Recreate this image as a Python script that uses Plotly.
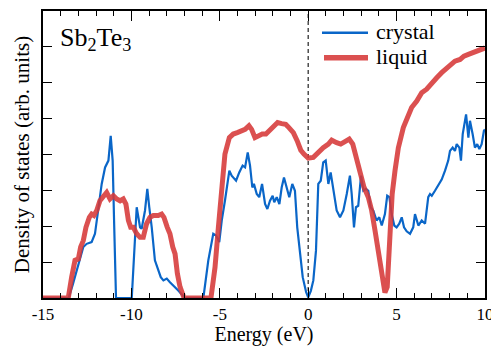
import plotly.graph_objects as go

# ---- data ----
crystal_E = [-15, -13.55, -13.3, -13.1, -12.9, -12.72, -12.53, -12.25, -12.06, -11.96, -11.8, -11.68,
             -11.49, -11.3, -11.17, -11.06, -10.98, -10.87, -9.98, -9.83, -9.7, -9.51, -9.42, -9.23,
             -9.1, -8.99, -8.85, -8.67, -8.53, -8.34, -8.19, -8.0, -7.82, -7.63, -7.35, -7.06, -7.0,
             -5.93, -5.65, -5.37, -5.21, -5.03, -4.89, -4.71, -4.46, -4.33, -4.08, -3.9, -3.71, -3.57,
             -3.42, -3.29, -3.16, -3.07, -2.91, -2.77, -2.61, -2.44, -2.31, -2.16, -2.01, -1.92, -1.78,
             -1.63, -1.5, -1.37, -1.22, -1.07, -0.9, -0.75, -0.62, -0.46, -0.31, -0.12, 0.0, 0.15, 0.29,
             0.44, 0.57, 0.71, 0.85, 0.99, 1.14, 1.27, 1.42, 1.61, 1.8, 1.99, 2.18, 2.36, 2.46, 2.59,
             2.7, 2.83, 2.99, 3.12, 3.27, 3.4, 3.53, 3.68, 3.87, 4.02, 4.16, 4.34, 4.47, 4.59, 4.72,
             4.87, 5.0, 5.15, 5.29, 5.42, 5.57, 5.76, 5.94, 6.04, 6.23, 6.42, 6.61, 6.79, 6.89, 6.99,
             7.17, 7.36, 7.55, 7.74, 7.92, 8.02, 8.17, 8.3, 8.4, 8.55, 8.64, 8.74, 8.93, 9.06, 9.15,
             9.3, 9.43, 9.56, 9.68, 9.81, 9.94, 10.0]
crystal_dos = [0, 0, 0.4, 0.77, 1.1, 1.42, 1.51, 1.56, 1.79, 2.16, 2.7, 3.18,
               3.64, 3.83, 4.52, 3.83, 2.16, 0, 0, 1.6, 2.53, 1.97, 1.93, 2.44,
               3.04, 2.53, 1.97, 1.05, 0.86, 0.58, 0.49, 0.54, 0.44, 0.35, 0.21, 0.05, 0,
               0, 1.05, 1.79, 1.74, 1.56, 2.16, 2.71, 3.55, 3.41, 3.27, 3.5, 3.69, 3.64,
               4.06, 3.69, 3.08, 3.18, 2.9, 2.81, 3.18, 2.62, 2.48, 2.71, 2.85, 2.67, 2.81,
               2.62, 3.08, 3.36, 3.08, 2.81, 3.18, 2.99, 1.97, 1.23, 0.58, 0.17, 0.02, 0.2, 0.49,
               1.32, 3.18, 3.27, 3.78, 3.83, 3.18, 3.5, 3.08, 2.44, 2.25, 2.44, 2.9, 3.41, 2.9, 1.97,
               2.53, 2.57, 3.41, 2.99, 3.04, 2.99, 2.53, 2.44, 2.16, 2.25, 2.02, 2.34, 2.85, 2.81, 2.34,
               2.02, 1.97, 2.07, 2.25, 1.97, 1.86, 1.79, 1.97, 2.34, 2.02, 2.16, 2.07, 2.81, 2.9, 2.85,
               2.99, 3.13, 3.3, 3.55, 3.83, 4.1, 4.19, 4.1, 4.29, 4.19, 3.83, 4.57, 5.12, 4.47, 4.94,
               4.57, 4.19, 4.29, 4.15, 4.29, 4.66, 4.7]

liquid_E = [-15, -13.57, -13.38, -13.19, -13.0, -12.87, -12.72, -12.57, -12.38, -12.25, -12.12, -11.96,
            -11.78, -11.59, -11.4, -11.21, -11.02, -10.83, -10.64, -10.46, -10.31, -10.17, -10.04,
            -9.89, -9.7, -9.51, -9.33, -9.14, -8.95, -8.76, -8.48, -8.29, -8.16, -7.97, -7.82, -7.66,
            -7.53, -7.4, -7.25, -7.06, -7.0, -5.5, -5.27, -5.08, -4.89, -4.71, -4.46, -4.24, -4.01,
            -3.76, -3.57, -3.35, -3.2, -3.01, -2.82, -2.6, -2.39, -2.2, -1.97, -1.73, -1.5, -1.27,
            -1.09, -0.84, -0.62, -0.42, -0.24, 0.0, 0.29, 0.57, 0.85, 1.14, 1.33, 1.61, 1.84, 2.08,
            2.32, 2.52, 2.7, 2.93, 3.16, 3.4, 3.59, 3.78, 3.97, 4.16, 4.34, 4.47, 4.59, 4.75, 4.91,
            5.1, 5.38, 5.66, 5.85, 6.14, 6.42, 6.7, 6.99, 7.27, 7.55, 7.74, 8.02, 8.3, 8.59, 8.81,
            9.06, 9.3, 9.53, 9.72, 10.0]
liquid_dos = [0, 0, 0.58, 1.05, 1.09, 1.42, 1.6, 1.97, 2.25, 2.34, 2.3, 2.44,
              2.71, 2.85, 2.94, 2.76, 2.85, 2.76, 2.71, 2.76, 2.62, 2.16, 1.97,
              1.97, 1.79, 1.69, 1.69, 2.07, 2.25, 2.3, 2.3, 2.34, 2.25, 1.97, 1.79, 1.42,
              1.23, 0.68, 0.31, 0.05, 0, 0, 0.86, 1.97, 3.08, 4.01, 4.47, 4.57, 4.61,
              4.66, 4.7, 4.8, 4.7, 4.47, 4.52, 4.57, 4.57, 4.66, 4.8, 4.89, 4.86, 4.84,
              4.75, 4.61, 4.38, 4.12, 4.01, 3.9, 3.92, 4.06, 4.19, 4.29, 4.4, 4.33, 4.29, 4.36,
              4.43, 4.29, 3.92, 3.46, 3.08, 2.81, 2.44, 1.88, 1.23, 0.68, 0.15, 0.31, 1.51, 2.9, 3.55,
              4.19, 4.75, 5.12, 5.31, 5.49, 5.72, 5.82, 6.0, 6.14, 6.28, 6.37, 6.46, 6.6, 6.65, 6.74,
              6.79, 6.83, 6.88, 6.93, 6.97]

x_ticks = [-15, -10, -5, 0, 5, 10]
x_tick_labels = ["-15", "-10", "-5", "0", "5", "10"]
series_names = ["crystal", "liquid"]

BLUE = "#0a66c8"
RED = "rgba(214,56,56,0.88)"
FONT = "Liberation Serif"

fig = go.Figure()
fig.add_trace(go.Scatter(x=crystal_E, y=crystal_dos, mode="lines", name=series_names[0],
                         line=dict(color=BLUE, width=2.2), showlegend=False))
fig.add_trace(go.Scatter(x=liquid_E, y=liquid_dos, mode="lines", name=series_names[1],
                         line=dict(color=RED, width=5), showlegend=False))

# Fermi level dashed line
fig.add_shape(type="line", xref="x", yref="paper", x0=0, x1=0, y0=0, y1=1,
              line=dict(color="#333333", width=1.3, dash="4px,3px"), layer="below")

# manual legend
L, R, T, B = 43, 485, 10.7, 297.7
def px(x):
    return (x - L) / (R - L)
def py(y):
    return (B - y) / (B - T)

fig.add_shape(type="line", xref="paper", yref="paper", x0=px(322), x1=px(368), y0=py(32.5), y1=py(32.5),
              line=dict(color=BLUE, width=2.5))
fig.add_shape(type="line", xref="paper", yref="paper", x0=px(324), x1=px(368), y0=py(57.5), y1=py(57.5),
              line=dict(color=RED, width=5.5))
for name, yy in zip(series_names, [31, 56]):
    fig.add_annotation(xref="paper", yref="paper", x=px(374), y=py(yy), text=name, showarrow=False,
                       xanchor="left", yanchor="middle", font=dict(family=FONT, size=22, color="black"))

fig.add_annotation(xref="paper", yref="paper", x=px(58), y=py(39), text="Sb<sub>2</sub>Te<sub>3</sub>",
                   showarrow=False, xanchor="left", yanchor="middle",
                   font=dict(family=FONT, size=26, color="black"))

fig.update_layout(
    width=491, height=346,
    margin=dict(l=43, r=6, t=11, b=48, autoexpand=False),
    plot_bgcolor="white", paper_bgcolor="white",
    font=dict(family=FONT, color="black"),
)
fig.update_xaxes(range=[-15, 10], tickvals=x_ticks, ticktext=x_tick_labels,
                 ticks="inside", ticklen=10, tickwidth=1.3, tickcolor="black",
                 minor=dict(dtick=1, ticks="inside", ticklen=5, tickwidth=1.2, tickcolor="black"),
                 showline=True, linecolor="black", linewidth=1.5, mirror="ticks",
                 showgrid=False, zeroline=False, tickfont=dict(size=17),
                 ticklabeloverflow="allow", automargin=False,
                 title=dict(text="Energy (eV)", font=dict(size=20), standoff=6))
fig.update_yaxes(range=[0, 8], dtick=1, showticklabels=False,
                 ticks="inside", ticklen=9, tickwidth=1.3, tickcolor="black",
                 showline=True, linecolor="black", linewidth=1.5, mirror="ticks",
                 showgrid=False, zeroline=False, automargin=False,
                 title=dict(text="Density of states (arb. units)", font=dict(size=21), standoff=6))

fig.write_html("out.html")
